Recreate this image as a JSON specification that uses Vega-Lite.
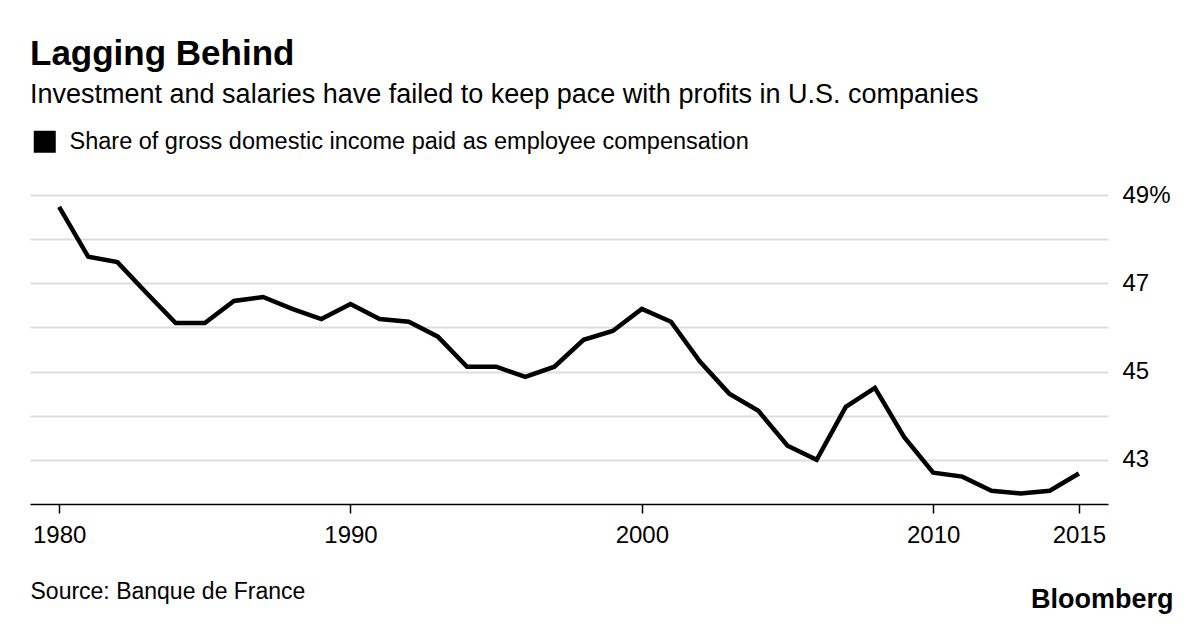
{
  "$schema": "https://vega.github.io/schema/vega-lite/v6.json",
  "width": 1078,
  "height": 309,
  "autosize": "none",
  "padding": {"left": 30, "top": 195, "right": 92, "bottom": 123},
  "background": "white",
  "title": {
    "text": "Lagging Behind",
    "subtitle": "Investment and salaries have failed to keep pace with profits in U.S. companies",
    "anchor": "start",
    "frame": "group",
    "offset": 22,
    "font": "Liberation Sans",
    "fontSize": 35,
    "fontWeight": "bold",
    "color": "black",
    "subtitleFont": "Liberation Sans",
    "subtitleFontSize": 27,
    "subtitleColor": "black",
    "subtitlePadding": 10
  },
  "data": {
    "values": [
      {"year": 1980, "share": 48.73},
      {"year": 1981, "share": 47.6},
      {"year": 1982, "share": 47.48},
      {"year": 1983, "share": 46.78},
      {"year": 1984, "share": 46.1},
      {"year": 1985, "share": 46.1},
      {"year": 1986, "share": 46.6},
      {"year": 1987, "share": 46.69},
      {"year": 1988, "share": 46.42},
      {"year": 1989, "share": 46.19},
      {"year": 1990, "share": 46.53},
      {"year": 1991, "share": 46.19},
      {"year": 1992, "share": 46.13},
      {"year": 1993, "share": 45.79},
      {"year": 1994, "share": 45.11},
      {"year": 1995, "share": 45.11},
      {"year": 1996, "share": 44.88},
      {"year": 1997, "share": 45.11},
      {"year": 1998, "share": 45.72},
      {"year": 1999, "share": 45.92},
      {"year": 2000, "share": 46.42},
      {"year": 2001, "share": 46.13},
      {"year": 2002, "share": 45.22},
      {"year": 2003, "share": 44.5},
      {"year": 2004, "share": 44.11},
      {"year": 2005, "share": 43.32},
      {"year": 2006, "share": 43.0},
      {"year": 2007, "share": 44.2},
      {"year": 2008, "share": 44.63},
      {"year": 2009, "share": 43.52},
      {"year": 2010, "share": 42.71},
      {"year": 2011, "share": 42.62},
      {"year": 2012, "share": 42.3},
      {"year": 2013, "share": 42.24},
      {"year": 2014, "share": 42.3},
      {"year": 2015, "share": 42.69}
    ]
  },
  "transform": [
    {"calculate": "'Share of gross domestic income paid as employee compensation'", "as": "series"}
  ],
  "mark": {"type": "line", "strokeWidth": 4.5, "strokeJoin": "miter"},
  "encoding": {
    "x": {
      "field": "year",
      "type": "quantitative",
      "scale": {"domain": [1979, 2016], "nice": false, "zero": false},
      "axis": {
        "values": [1980, 1990, 2000, 2010, 2015],
        "format": "d",
        "grid": false,
        "domainColor": "black",
        "domainWidth": 1.5,
        "tickColor": "black",
        "tickWidth": 1.5,
        "tickSize": 9,
        "labelFont": "Liberation Sans",
        "labelFontSize": 24,
        "labelColor": "black",
        "labelPadding": 10,
        "labelFlush": false,
        "title": "Source: Banque de France",
        "titleFont": "Liberation Sans",
        "titleFontSize": 23,
        "titleFontWeight": "normal",
        "titleColor": "black",
        "titleAlign": "left",
        "titleAnchor": null,
        "titleX": 0,
        "titleY": 94,
        "titleBaseline": "alphabetic"
      }
    },
    "y": {
      "field": "share",
      "type": "quantitative",
      "scale": {"domain": [42, 49], "nice": false, "zero": false},
      "axis": {
        "orient": "right",
        "values": [43, 44, 45, 46, 47, 48, 49],
        "labelExpr": "datum.value == 49 ? '49%' : (datum.value % 2 == 1 ? datum.label : '')",
        "domain": false,
        "ticks": false,
        "gridColor": "#dddddd",
        "gridWidth": 2,
        "labelFont": "Liberation Sans",
        "labelFontSize": 24,
        "labelColor": "black",
        "labelPadding": 14,
        "title": "Bloomberg",
        "titleFont": "Liberation Sans",
        "titleFontSize": 27,
        "titleFontWeight": "bold",
        "titleColor": "black",
        "titleAngle": 0,
        "titleAlign": "right",
        "titleBaseline": "alphabetic",
        "titleX": 65,
        "titleY": 412
      }
    },
    "color": {
      "field": "series",
      "type": "nominal",
      "scale": {"range": ["black"]},
      "legend": {
        "orient": "none",
        "legendX": 3,
        "legendY": -65,
        "title": null,
        "symbolType": "square",
        "symbolSize": 484,
        "symbolFillColor": "black",
        "symbolStrokeColor": "black",
        "symbolStrokeWidth": 0,
        "labelFont": "Liberation Sans",
        "labelFontSize": 23.5,
        "labelColor": "black",
        "labelOffset": 13,
        "labelLimit": 1000,
        "padding": 0
      }
    }
  },
  "config": {"view": {"stroke": null}}
}
